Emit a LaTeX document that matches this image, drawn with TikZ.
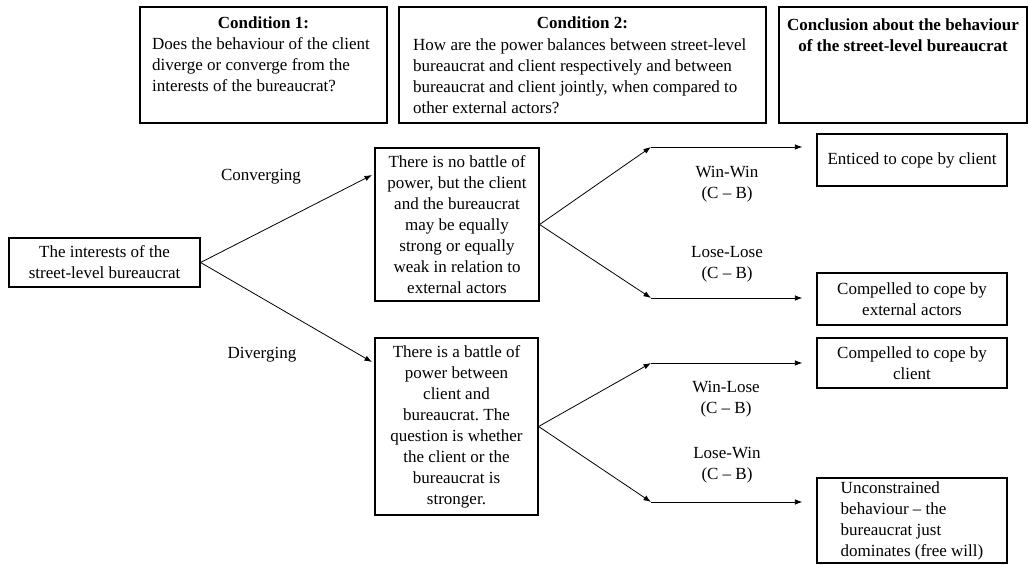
\documentclass[tikz,border=0pt]{standalone}
\usepackage{fontspec}
\setmainfont{Liberation Serif}
\usetikzlibrary{arrows.meta}
\frenchspacing
% fixes the top of a multi-line block to a constant ascender height
\newcommand{\topstrut}{\rule{0pt}{12.5pt}}
\begin{document}
\begin{tikzpicture}[x=1pt,y=-1pt,
  txt/.style={font=\fontsize{17}{21}\selectfont, inner sep=0pt},
  frame/.style={draw, line width=1.2pt, inner sep=0pt, font=\fontsize{17}{21}\selectfont, align=center},
  link/.style={line width=0.8pt, -{Latex[length=7.5pt,width=5.5pt]}},
]
\useasboundingbox (0,0) rectangle (1029,565);

% ---- column headers ----
\node[frame, minimum width=247pt, minimum height=116pt] (c1) at (263.5,65) {};
\node[txt, font=\fontsize{17}{21}\selectfont\bfseries, anchor=base] (c1title) at (263.5,28) {Condition 1:};
\node[txt, align=left, anchor=north west] (c1body) at (152,36.5)
  {\topstrut Does the behaviour of the client\\diverge or converge from the\\interests of the bureaucrat?};

\node[frame, minimum width=367pt, minimum height=116pt] (c2) at (582.5,65) {};
\node[txt, font=\fontsize{17}{21}\selectfont\bfseries, anchor=base] (c2title) at (582.5,28) {Condition 2:};
\node[txt, align=left, anchor=north west] (c2body) at (413,37.5)
  {\topstrut How are the power balances between street-level\\bureaucrat and client respectively and between\\bureaucrat and client jointly, when compared to\\other external actors?};

\node[frame, minimum width=248pt, minimum height=116pt] (c3) at (903,65) {};
\node[txt, font=\fontsize{17}{21}\selectfont\bfseries, align=center, anchor=north] (c3title) at (903,17.5)
  {\topstrut Conclusion about the behaviour\\of the street-level bureaucrat};

% ---- flow boxes ----
\node[frame, minimum width=191pt, minimum height=49pt] (src) at (104.5,262.5)
  {The interests of the\\street-level bureaucrat};

\node[frame, minimum width=164pt, minimum height=153pt] (m1) at (457,224.5)
  {There is no battle of\\power, but the client\\and the bureaucrat\\may be equally\\strong or equally\\weak in relation to\\external actors};

\node[frame, minimum width=163pt, minimum height=177pt] (m2) at (456.5,426.5)
  {There is a battle of\\power between\\client and\\bureaucrat. The\\question is whether\\the client or the\\bureaucrat is\\stronger.};

\node[frame, minimum width=190pt, minimum height=52pt] (r1) at (912,160)
  {Enticed to cope by client};
\node[frame, minimum width=190pt, minimum height=52pt] (r2) at (912,299)
  {Compelled to cope by\\external actors};
\node[frame, minimum width=190pt, minimum height=50pt] (r3) at (912,363)
  {Compelled to cope by\\client};
\node[frame, minimum width=190pt, minimum height=85pt, align=left] (r4) at (912,520.5)
  {Unconstrained\\behaviour -- the\\bureaucrat just\\dominates (free will)};

% ---- branch labels ----
\node[txt, anchor=base] (conv) at (261,180) {Converging};
\node[txt, anchor=base] (div) at (262,358) {Diverging};
\node[txt, align=center, anchor=north] (ww) at (727,164.5) {\topstrut Win-Win\\(C -- B)};
\node[txt, align=center, anchor=north] (ll) at (727,244.5) {\topstrut Lose-Lose\\(C -- B)};
\node[txt, align=center, anchor=north] (wl) at (726,379.5) {\topstrut Win-Lose\\(C -- B)};
\node[txt, align=center, anchor=north] (lw) at (727,445.5) {\topstrut Lose-Win\\(C -- B)};

% ---- connector bend points ----
\coordinate (cin) at (372,175);
\coordinate (din) at (372,362);
\coordinate (e1) at (651,147);
\coordinate (e2) at (651,298);
\coordinate (e3) at (651,363);
\coordinate (e4) at (651,502);

% ---- connectors ----
\draw[link] (src.east) -- (cin);
\draw[link] (src.east) -- (din);

\draw[link] (m1.east) -- (e1);
\draw[link] (m1.east) -- (e2);
\draw[link] (m2.east) -- (e3);
\draw[link] (m2.east) -- (e4);

\draw[link, shorten >=14pt] (e1) -- (e1 -| r1.west);
\draw[link, shorten >=14pt] (e2) -- (e2 -| r2.west);
\draw[link, shorten >=14pt] (e3) -- (e3 -| r3.west);
\draw[link, shorten >=14pt] (e4) -- (e4 -| r4.west);
\end{tikzpicture}
\end{document}
